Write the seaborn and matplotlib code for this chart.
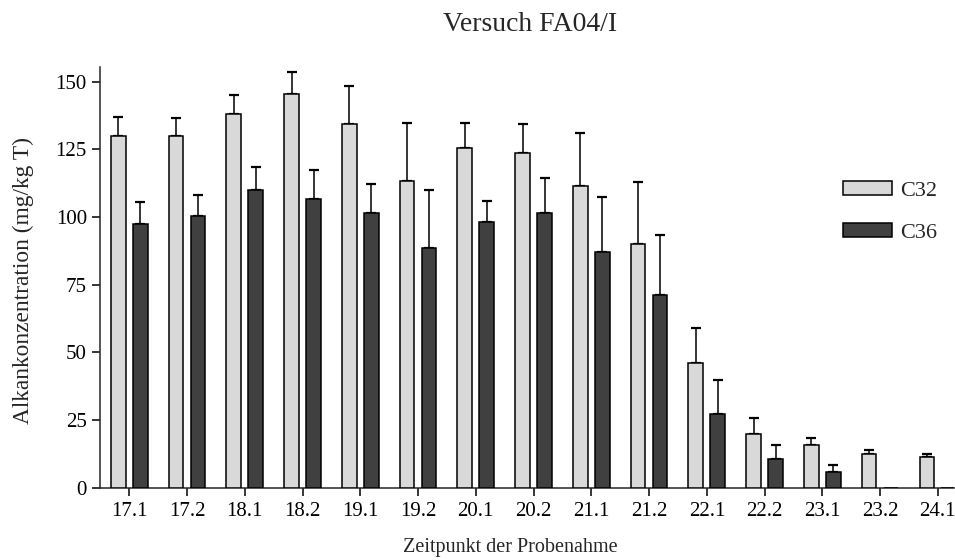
import numpy as np
import pandas as pd
import matplotlib
matplotlib.use("Agg")
import matplotlib.pyplot as plt
import seaborn as sns

# ---- data ----
zeitpunkte = ["17.1", "17.2", "18.1", "18.2", "19.1", "19.2", "20.1", "20.2",
              "21.1", "21.2", "22.1", "22.2", "23.1", "23.2", "24.1"]
c32 = [130.0, 130.0, 138.0, 145.3, 134.4, 113.2, 125.6, 123.6,
       111.6, 90.1, 46.0, 20.0, 15.7, 12.3, 11.3]
c32_err = [6.9, 6.6, 7.2, 8.3, 13.9, 21.6, 9.1, 10.8,
           19.4, 22.8, 13.0, 5.7, 2.7, 1.7, 1.3]
c36 = [97.5, 100.4, 110.1, 106.6, 101.5, 88.7, 98.3, 101.6,
       87.2, 71.2, 27.2, 10.7, 5.9, 0.0, 0.0]
c36_err = [7.9, 7.7, 8.5, 10.9, 10.7, 21.3, 7.6, 12.9,
           20.2, 22.3, 12.5, 5.1, 2.5, 0.0, 0.0]
serien = ["C32", "C36"]
farben = ["#d9d9d9", "#404040"]

df = pd.DataFrame({
    "Zeitpunkt": zeitpunkte * 2,
    "Wert": c32 + c36,
    "Serie": ["C32"] * len(zeitpunkte) + ["C36"] * len(zeitpunkte),
})

sns.set_style("ticks")
plt.rcParams["font.family"] = ["Liberation Serif", "DejaVu Serif"]
plt.rcParams["axes.linewidth"] = 1.1

fig = plt.figure(figsize=(9.55, 5.6), dpi=100)
ax = fig.add_axes([100 / 955, 1 - 487.7 / 560, 854 / 955, (487.7 - 67) / 560])

sns.barplot(data=df, x="Zeitpunkt", y="Wert", hue="Serie", order=zeitpunkte,
            hue_order=serien, palette=farben, width=0.76, gap=0.33,
            edgecolor="black", linewidth=1.1, errorbar=None, ax=ax, zorder=3)

# error bars (upward only) placed on the drawn bars
fehler = {"C32": c32_err, "C36": c36_err}
werte = {"C32": c32, "C36": c36}
for cont, s in zip(ax.containers, serien):
    xs = [p.get_x() + p.get_width() / 2 for p in cont.patches]
    err = np.array(fehler[s])
    val = np.array(werte[s])
    mask = err > 0
    ax.errorbar(np.array(xs)[mask], val[mask],
                yerr=[np.zeros(mask.sum()), err[mask]], fmt="none",
                ecolor="black", elinewidth=1.1, capsize=3.5, capthick=1.6,
                zorder=2)

ax.set_xlim(-0.507, 14.28)
ax.set_ylim(0, 155.4)
ax.set_yticks([0, 25, 50, 75, 100, 125, 150])
sns.despine(ax=ax)
ax.tick_params(axis="both", direction="out", length=6, width=1.1,
               labelsize=15, colors="black")
ax.tick_params(axis="x", pad=4)
ax.set_xlabel("Zeitpunkt der Probenahme", fontsize=14.5, va="top")
ax.xaxis.set_label_coords((510 - 100) / 854, (487.7 - 538) / 420.7)
ax.set_ylabel("Alkankonzentration (mg/kg T)", fontsize=16.8)
ax.yaxis.set_label_coords((34 - 100) / 854, (487.7 - 280) / 420.7)
fig.text(530 / 955, 1 - 31 / 560, "Versuch FA04/I", fontsize=20,
         ha="center", va="baseline")

leg = ax.legend(loc="upper left", bbox_to_anchor=(843 / 955, 1 - 181 / 560),
                bbox_transform=fig.transFigure, frameon=False, fontsize=16,
                handlelength=2.19, handleheight=0.57, labelspacing=1.0,
                handletextpad=0.4, borderpad=0, borderaxespad=0)
for h in leg.legend_handles:
    h.set_edgecolor("black")
    h.set_linewidth(1.1)

fig.savefig("out.png", dpi=100)
